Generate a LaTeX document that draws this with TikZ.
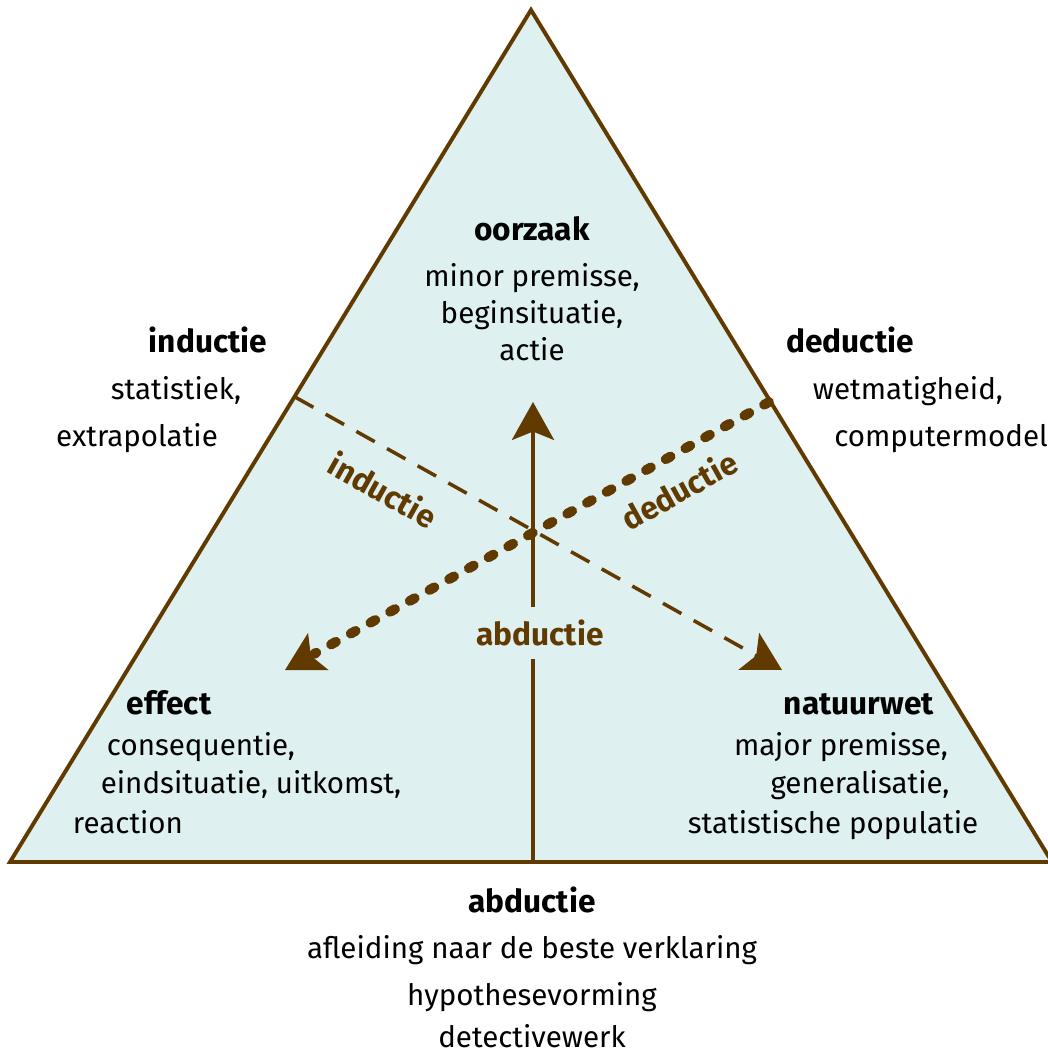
\documentclass[tikz,border=0pt]{standalone}
\usepackage{fontspec}
\setmainfont{Fira Sans}
\usetikzlibrary{arrows.meta,calc}
\definecolor{bruin}{RGB}{97,58,0}
\definecolor{lichtblauw}{RGB}{223,240,240}
\tikzset{
  txt/.style={font=\fontsize{21}{24}\selectfont, inner sep=0pt, anchor=base},
  kop/.style={txt, font=\fontsize{22.5}{26}\selectfont\bfseries},
  pijltekst/.style={kop, text=bruin, anchor=center},
  pijlkop/.style={-{Stealth[length=27pt,width=30pt,inset=6pt]}},
}
\begin{document}
\begin{tikzpicture}[x=0.025cm, y=-0.025cm]
	\useasboundingbox (0,0) rectangle (1047,1053);
	\coordinate (top) at (531,10);
	\coordinate (linksonder) at (10,862);
	\coordinate (rechtsonder) at (1052,862);
	\filldraw[fill=lichtblauw, draw=bruin, line width=2.8pt, line join=miter]
		(top)--(rechtsonder)--(linksonder)--cycle;
	\coordinate (abdbegin) at (533,862);
	\coordinate (abdeind) at (533,402);
	\coordinate (indbegin) at (295,397);
	\coordinate (indeind) at (782,670);
	\coordinate (dedbegin) at (769,402);
	\coordinate (dedeind) at (285,670);
	% pijlen
	\node[pijltekst, inner xsep=4pt, inner ysep=9pt] (abdpijl) at (540,633) {abductie};
	\draw[bruin, line width=2.6pt] (abdbegin)--(abdpijl.south -| abdbegin);
	\draw[bruin, line width=2.6pt, pijlkop] (abdpijl.north -| abdbegin)--(abdeind);
	\draw[bruin, line width=2.5pt, dash pattern=on 15pt off 10pt, pijlkop] (indbegin)--(indeind);
	\draw[bruin, line width=7pt, line cap=round, dash pattern=on 4pt off 12pt] (dedbegin)--($(dedeind)!0.06!(dedbegin)$);
	\draw[bruin, line width=2.2pt, pijlkop] ($(dedeind)!0.07!(dedbegin)$)--(dedeind);
	\node[pijltekst, rotate=-29.4] (indpijl) at (383,490) {inductie};
	\node[pijltekst, rotate=29] (dedpijl) at (679,490) {deductie};
	% oorzaak
	\node[kop] (oorzaak) at (532,240) {oorzaak};
	\node[txt] (oorz1) at (532,286) {minor premisse,};
	\node[txt] (oorz2) at (532,323) {beginsituatie,};
	\node[txt] (oorz3) at (532,360) {actie};
	% inductie
	\node[kop] (inductie) at (208,352) {inductie};
	\node[txt] (ind1) at (176,399) {statistiek,};
	\node[txt] (ind2) at (137,446) {extrapolatie};
	% deductie
	\node[kop] (deductie) at (850,352) {deductie};
	\node[txt] (ded1) at (908,399) {wetmatigheid,};
	\node[txt] (ded2) at (941,446) {computermodel};
	% effect
	\node[kop] (effect) at (169,714) {effect};
	\node[txt] (eff1) at (201,755) {consequentie,};
	\node[txt] (eff2) at (251,793) {eindsituatie, uitkomst,};
	\node[txt] (eff3) at (128,833) {reaction};
	% natuurwet
	\node[kop] (natuurwet) at (859,714) {natuurwet};
	\node[txt] (nat1) at (841,755) {major premisse,};
	\node[txt] (nat2) at (860,793) {generalisatie,};
	\node[txt] (nat3) at (833,833) {statistische populatie};
	% abductie
	\node[kop] (abductie) at (532,912) {abductie};
	\node[txt] (abd1) at (532,958) {afleiding naar de beste verklaring};
	\node[txt] (abd2) at (532,1005) {hypothesevorming};
	\node[txt] (abd3) at (532,1047) {detectivewerk};
\end{tikzpicture}
\end{document}
